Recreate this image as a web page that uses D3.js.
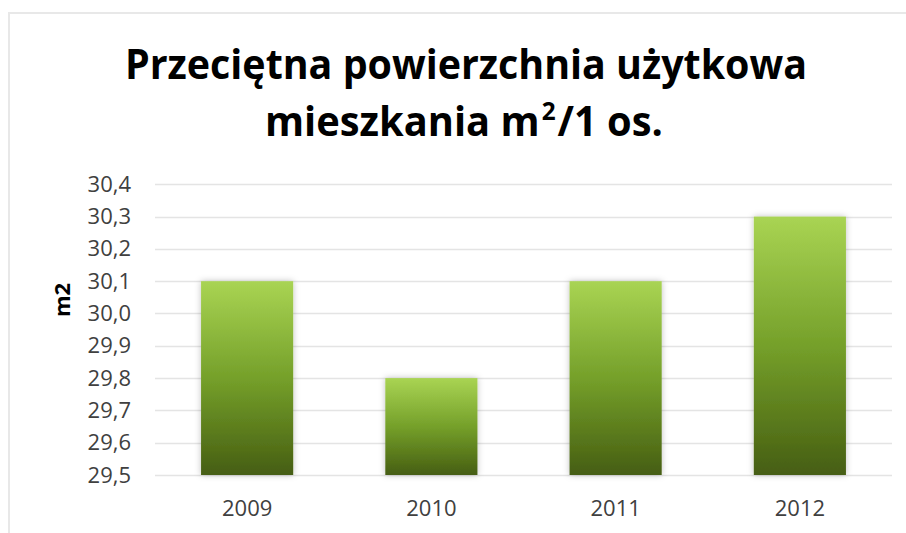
<!DOCTYPE html>
<html><head><meta charset="utf-8">
<script src="https://cdn.jsdelivr.net/npm/d3@7"></script>
<style>html,body{margin:0;padding:0;background:#fff;}svg{display:block;}</style>
</head><body>
<script>
const categories = ["2009", "2010", "2011", "2012"];
const values = [30.1, 29.8, 30.1, 30.3];
const yTicks = [29.5, 29.6, 29.7, 29.8, 29.9, 30.0, 30.1, 30.2, 30.3, 30.4];
const titleLine1 = "Przeciętna powierzchnia użytkowa";
const titleLine2Parts = ["mieszkania m", "2", "/1 os."];
const yTitle = "m2";

const FONT = "'Open Sans', 'Liberation Sans', Arial, sans-serif";
const W = 906, H = 533;
const svg = d3.select("body").append("svg").attr("width", W).attr("height", H);
const defs = svg.append("defs");
const grad = defs.append("linearGradient").attr("id", "g").attr("x1", 0).attr("y1", 0).attr("x2", 0).attr("y2", 1);
grad.append("stop").attr("offset", "0%").attr("stop-color", "#a9d453");
grad.append("stop").attr("offset", "50%").attr("stop-color", "#75a02a");
grad.append("stop").attr("offset", "100%").attr("stop-color", "#465e12");
const f = defs.append("filter").attr("id", "sh").attr("x", "-20%").attr("y", "-10%").attr("width", "140%").attr("height", "120%");
f.append("feDropShadow").attr("dx", 0).attr("dy", 0).attr("stdDeviation", 3).attr("flood-color", "#000").attr("flood-opacity", 0.25);

// chart border
svg.append("path").attr("d", `M9,${H} V13 H${W}`).attr("fill", "none").attr("stroke", "#e8e8e8").attr("stroke-width", 2);

const x = d3.scaleBand().domain(categories).range([155, 892]).paddingInner(0.5).paddingOuter(0.25);
const y = d3.scaleLinear().domain([29.5, 30.4]).range([475, 184.3]);

// grid
svg.append("g").selectAll("line").data(yTicks).join("line")
  .attr("x1", 155).attr("x2", 892)
  .attr("y1", d => Math.round(y(d)) + 0.5).attr("y2", d => Math.round(y(d)) + 0.5)
  .attr("stroke", "#e4e4e4").attr("stroke-width", 1.5);

// y axis
const yAxis = d3.axisLeft(y).tickValues(yTicks).tickSize(0).tickPadding(0)
  .tickFormat(d => d3.format(".1f")(d).replace(".", ","));
const ya = svg.append("g").attr("transform", "translate(131,0)").call(yAxis);
ya.select(".domain").remove();
ya.selectAll("text").attr("font-family", FONT).attr("font-size", 22).attr("fill", "#404040");

// x axis
const xAxis = d3.axisBottom(x).tickSize(0).tickPadding(0);
const xa = svg.append("g").attr("transform", "translate(0,500)").call(xAxis);
xa.select(".domain").remove();
xa.selectAll("text").attr("font-family", FONT).attr("font-size", 22).attr("fill", "#404040");

// bars
svg.append("g").selectAll("rect").data(values).join("rect")
  .attr("x", (d, i) => x(categories[i]))
  .attr("width", x.bandwidth())
  .attr("y", d => y(d))
  .attr("height", d => y(29.5) - y(d))
  .attr("fill", "url(#g)")
  .attr("filter", "url(#sh)");

// y title
svg.append("text").attr("transform", "translate(70,300) rotate(-90)")
  .attr("text-anchor", "middle").attr("font-family", FONT)
  .attr("font-size", 22).attr("font-weight", "bold").attr("fill", "#000").text(yTitle);

// title line 1
svg.append("text").attr("x", 466).attr("y", 79).attr("text-anchor", "middle")
  .attr("font-family", FONT).attr("font-size", 41).attr("font-weight", "bold")
  .attr("fill", "#000").attr("textLength", 682).attr("lengthAdjust", "spacingAndGlyphs").text(titleLine1);

// title line 2 as separate pieces (superscript 2), horizontally scaled
const sizes = [41, 25, 41];
const dys = [0, -16, 0];
const pieces = titleLine2Parts.map((t, i) => svg.append("text")
  .attr("font-family", FONT).attr("font-size", sizes[i]).attr("font-weight", "bold")
  .attr("fill", "#000").text(t));
const gap = 2;
const widths = pieces.map(p => p.node().getComputedTextLength());
const natural = d3.sum(widths) + gap * 2;
const target = 398;
const k = target / natural;
let cx = 464 - target / 2;
pieces.forEach((p, i) => {
  p.attr("transform", `translate(${cx},${136 + dys[i]}) scale(${k},1)`);
  cx += (widths[i] + gap) * k;
});
</script>
</body></html>
